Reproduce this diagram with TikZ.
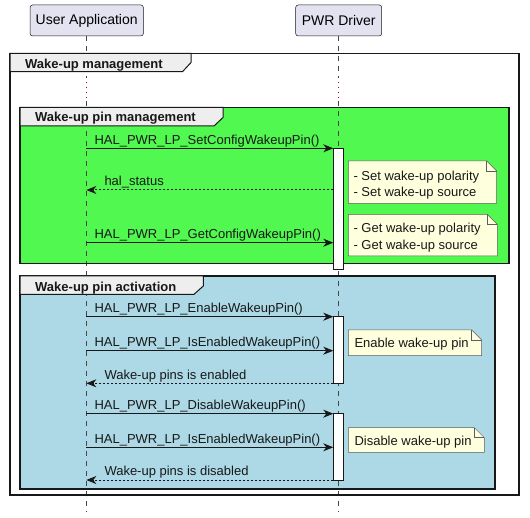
\documentclass[tikz,border=0pt]{standalone}
\usepackage{fontspec}
\setmainfont{Liberation Sans}
\usetikzlibrary{arrows.meta}
\definecolor{partfill}{HTML}{E2E2F0}
\definecolor{ink}{HTML}{181818}
\definecolor{notefill}{HTML}{FEFFDD}
\definecolor{grpgreen}{HTML}{50F850}
\definecolor{grpblue}{HTML}{ADD8E6}
\definecolor{tabfill}{HTML}{EEEEEE}
\definecolor{delaycol}{HTML}{A80036}
\newcommand\notebg[4]{%
  \filldraw[notestyle] (#1,#2) -- (#3-10,#2) -- (#3,#2+10) -- (#3,#4) -- (#1,#4) -- cycle;
  \draw[notestyle, fill=none] (#3-10,#2) -- (#3-10,#2+10) -- (#3,#2+10);}
\begin{document}
\begin{tikzpicture}[x=1pt,y=-1pt,
  font=\fontsize{13}{16}\selectfont,
  participant/.style={draw=ink, fill=partfill, line width=0.5pt, rounded corners=2.5pt,
    minimum height=31pt, inner sep=0pt, font=\fontsize{14}{16}\selectfont},
  lifeline/.style={draw=ink!80, line width=0.5pt, dash pattern=on 5pt off 5pt},
  delayline/.style={draw=delaycol, line width=1.3pt, dash pattern=on 1.3pt off 3.7pt},
  msg/.style={draw=ink, line width=1pt, -{Stealth[length=10pt,width=8pt,inset=3pt]}},
  ret/.style={msg, dash pattern=on 2pt off 2pt},
  lbl/.style={anchor=base west, inner sep=0pt, text=ink},
  grptitle/.style={anchor=base west, inner sep=0pt, font=\fontsize{13}{16}\selectfont\bfseries, text=ink},
  frameline/.style={draw=ink, line width=1.5pt},
  tabstyle/.style={draw=ink, fill=tabfill, line width=1pt},
  actbar/.style={draw=ink, fill=white, line width=1pt, minimum width=10pt, inner sep=0pt, outer sep=0pt},
  notestyle/.style={draw=ink!70, fill=notefill, line width=0.5pt},
]
\useasboundingbox (0,0) rectangle (530,518);

% group fills
\fill[grpgreen] (20,107.3) rectangle (509,263.3);
\fill[grpblue] (20,276) rectangle (495,489);

% participants
\node[participant, minimum width=113.3pt] (ua) at (86.7,20.5) {User Application};
\node[participant, minimum width=86pt] (pwr) at (338.7,20.5) {PWR Driver};

% lifelines
\coordinate (uaD1) at (86.3,77);
\coordinate (uaD2) at (86.3,101);
\coordinate (uaEnd) at (86.3,512);
\coordinate (pwD1) at (338.3,77);
\coordinate (pwD2) at (338.3,101);
\coordinate (pwEnd) at (338.3,512);
\draw[lifeline] (86.3,36) -- (uaD1);
\draw[delayline] (uaD1) -- (uaD2);
\draw[lifeline] (uaD2) -- (uaEnd);
\draw[lifeline] (338.3,36) -- (pwD1);
\draw[delayline] (pwD1) -- (pwD2);
\draw[lifeline] (pwD2) -- (pwEnd);

% outer frame
\draw[frameline] (10,53.5) rectangle (519,495);
\filldraw[tabstyle] (10,53.5) -- (191,53.5) -- (191,62.5) -- (182.5,71.7) -- (10,71.7) -- cycle;
\node[grptitle] (t0) at (25,69) {Wake-up management};

% group 1
\draw[frameline] (20,107.3) rectangle (509,263.3);
\filldraw[tabstyle] (20,107.3) -- (223,107.3) -- (223,117.5) -- (214,126) -- (20,126) -- cycle;
\node[grptitle] (t1) at (35,121.3) {Wake-up pin management};

% group 2
\draw[frameline] (20,276) rectangle (495,489);
\filldraw[tabstyle] (20,276) -- (203.3,276) -- (203.3,286) -- (194,294.3) -- (20,294.3) -- cycle;
\node[grptitle] (t2) at (35,291.3) {Wake-up pin activation};

% activation bars
\node[actbar, minimum height=121pt] (act1) at (338.3,208.8) {};
\node[actbar, minimum height=66.6pt] (act2) at (338.3,350) {};
\node[actbar, minimum height=66.3pt] (act3) at (338.3,446.85) {};

% message endpoints on User Application lifeline
\coordinate (u1) at (86.3,148.3);
\coordinate (u2) at (86.3,190);
\coordinate (u3) at (86.3,242.7);
\coordinate (u4) at (86.3,316.7);
\coordinate (u5) at (86.3,350.7);
\coordinate (u6) at (86.3,383.3);
\coordinate (u7) at (86.3,413.7);
\coordinate (u8) at (86.3,447.3);
\coordinate (u9) at (86.3,480);

% messages
\draw[msg] (u1) -- (act1.west |- u1);
\node[lbl] (l1) at (94.3,144.3) {HAL\_PWR\_LP\_SetConfigWakeupPin()};
\draw[ret] (act1.west |- u2) -- (u2);
\node[lbl] (l2) at (104.3,185.5) {hal\_status};
\draw[msg] (u3) -- (act1.west |- u3);
\node[lbl] (l3) at (94.3,238.7) {HAL\_PWR\_LP\_GetConfigWakeupPin()};

\draw[msg] (u4) -- (act2.west |- u4);
\node[lbl] (l4) at (94.3,312.5) {HAL\_PWR\_LP\_EnableWakeupPin()};
\draw[msg] (u5) -- (act2.west |- u5);
\node[lbl] (l5) at (94.3,346.5) {HAL\_PWR\_LP\_IsEnabledWakeupPin()};
\draw[ret] (act2.west |- u6) -- (u6);
\node[lbl] (l6) at (104.3,379.2) {Wake-up pins is enabled};

\draw[msg] (u7) -- (act3.west |- u7);
\node[lbl] (l7) at (94.3,409.5) {HAL\_PWR\_LP\_DisableWakeupPin()};
\draw[msg] (u8) -- (act3.west |- u8);
\node[lbl] (l8) at (94.3,443.1) {HAL\_PWR\_LP\_IsEnabledWakeupPin()};
\draw[ret] (act3.west |- u9) -- (u9);
\node[lbl] (l9) at (104.3,475.9) {Wake-up pins is disabled};

% notes
\notebg{348.3}{161}{496.7}{203.3}
\node[lbl] (n1a) at (353.3,180.6) {- Set wake-up polarity};
\node[lbl] (n1b) at (353.3,197) {- Set wake-up source};
\notebg{348.3}{214.3}{497.3}{256}
\node[lbl] (n2a) at (353.3,233) {- Get wake-up polarity};
\node[lbl] (n2b) at (353.3,249.4) {- Get wake-up source};
\notebg{348.3}{330}{481.7}{355.7}
\node[lbl] (n3) at (354.3,347.8) {Enable wake-up pin};
\notebg{348.3}{427.7}{484.3}{452.3}
\node[lbl] (n4) at (354.3,445.2) {Disable wake-up pin};
\end{tikzpicture}
\end{document}
